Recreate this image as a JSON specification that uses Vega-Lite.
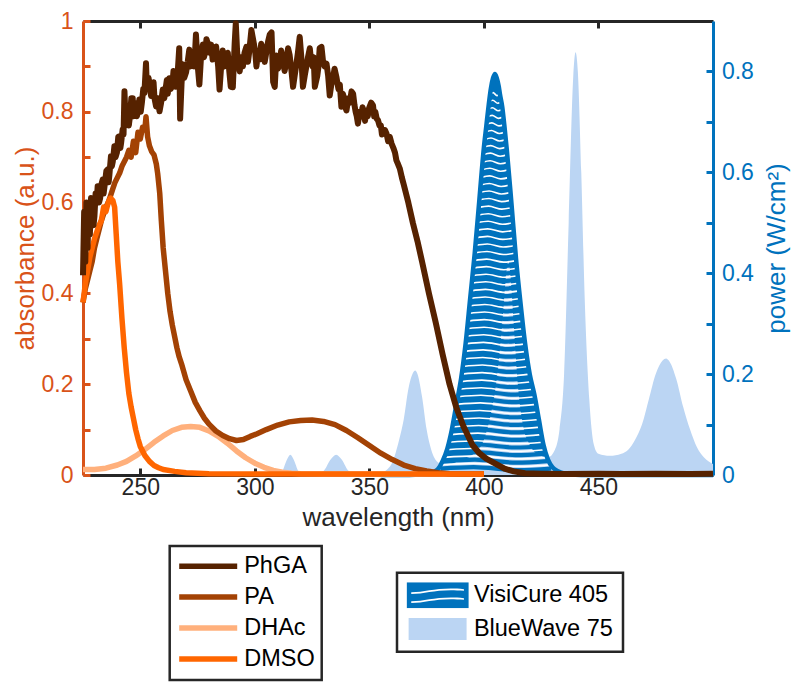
{
  "$schema": "https://vega.github.io/schema/vega-lite/v6.json",
  "width": 630,
  "height": 454,
  "autosize": {"type": "none"},
  "padding": {"left": 83, "top": 21, "right": 87, "bottom": 215},
  "config": {
    "font": "Liberation Sans",
    "view": {"stroke": null},
    "axis": {"grid": false, "domainWidth": 3, "tickWidth": 3, "labelFontSize": 23, "titleFontSize": 26, "titleFontWeight": "normal", "labelFont": "Liberation Sans", "titleFont": "Liberation Sans", "labelOverlap": false, "labelFlush": false},
    "legend": {"labelFont": "Liberation Sans"}
  },
  "datasets": {
    "vc": [
      {"s":"VisiCure 405","w":355,"p":0},{"s":"VisiCure 405","w":360,"p":0},{"s":"VisiCure 405","w":365,"p":0},{"s":"VisiCure 405","w":370,"p":0.0005},{"s":"VisiCure 405","w":375,"p":0.002},{"s":"VisiCure 405","w":378,"p":0.006},{"s":"VisiCure 405","w":380,"p":0.012},{"s":"VisiCure 405","w":382,"p":0.028},{"s":"VisiCure 405","w":384,"p":0.052},{"s":"VisiCure 405","w":386,"p":0.09},{"s":"VisiCure 405","w":388,"p":0.14},{"s":"VisiCure 405","w":390,"p":0.19},{"s":"VisiCure 405","w":392,"p":0.26},{"s":"VisiCure 405","w":394,"p":0.35},{"s":"VisiCure 405","w":396,"p":0.44},{"s":"VisiCure 405","w":398,"p":0.545},{"s":"VisiCure 405","w":400,"p":0.65},{"s":"VisiCure 405","w":401,"p":0.69},{"s":"VisiCure 405","w":402,"p":0.73},{"s":"VisiCure 405","w":403,"p":0.765},{"s":"VisiCure 405","w":404,"p":0.787},{"s":"VisiCure 405","w":404.8,"p":0.795},{"s":"VisiCure 405","w":405.6,"p":0.787},{"s":"VisiCure 405","w":406.5,"p":0.77},{"s":"VisiCure 405","w":407,"p":0.755},{"s":"VisiCure 405","w":408,"p":0.73},{"s":"VisiCure 405","w":409,"p":0.69},{"s":"VisiCure 405","w":410,"p":0.645},{"s":"VisiCure 405","w":412,"p":0.54},{"s":"VisiCure 405","w":414,"p":0.43},{"s":"VisiCure 405","w":416,"p":0.34},{"s":"VisiCure 405","w":418,"p":0.26},{"s":"VisiCure 405","w":420,"p":0.2},{"s":"VisiCure 405","w":422,"p":0.16},{"s":"VisiCure 405","w":424,"p":0.11},{"s":"VisiCure 405","w":426,"p":0.06},{"s":"VisiCure 405","w":428,"p":0.03},{"s":"VisiCure 405","w":430,"p":0.015},{"s":"VisiCure 405","w":432,"p":0.008},{"s":"VisiCure 405","w":436,"p":0.002},{"s":"VisiCure 405","w":440,"p":0.0005},{"s":"VisiCure 405","w":445,"p":0},{"s":"VisiCure 405","w":460,"p":0},{"s":"VisiCure 405","w":480,"p":0},{"s":"VisiCure 405","w":500,"p":0}
    ],
    "bw": [
      {"s":"BlueWave 75","w":305,"p":0},{"s":"BlueWave 75","w":310,"p":0.002},{"s":"BlueWave 75","w":312,"p":0.008},{"s":"BlueWave 75","w":314,"p":0.03},{"s":"BlueWave 75","w":315.5,"p":0.04},{"s":"BlueWave 75","w":317,"p":0.03},{"s":"BlueWave 75","w":319,"p":0.008},{"s":"BlueWave 75","w":321,"p":0.002},{"s":"BlueWave 75","w":326,"p":0.002},{"s":"BlueWave 75","w":330,"p":0.008},{"s":"BlueWave 75","w":333,"p":0.03},{"s":"BlueWave 75","w":335.5,"p":0.04},{"s":"BlueWave 75","w":338,"p":0.03},{"s":"BlueWave 75","w":341,"p":0.008},{"s":"BlueWave 75","w":345,"p":0.003},{"s":"BlueWave 75","w":350,"p":0.003},{"s":"BlueWave 75","w":355,"p":0.005},{"s":"BlueWave 75","w":358,"p":0.012},{"s":"BlueWave 75","w":360,"p":0.025},{"s":"BlueWave 75","w":363,"p":0.07},{"s":"BlueWave 75","w":365,"p":0.11},{"s":"BlueWave 75","w":367,"p":0.17},{"s":"BlueWave 75","w":369,"p":0.202},{"s":"BlueWave 75","w":370,"p":0.207},{"s":"BlueWave 75","w":371,"p":0.2},{"s":"BlueWave 75","w":373,"p":0.155},{"s":"BlueWave 75","w":375,"p":0.09},{"s":"BlueWave 75","w":377,"p":0.05},{"s":"BlueWave 75","w":380,"p":0.025},{"s":"BlueWave 75","w":383,"p":0.02},{"s":"BlueWave 75","w":386,"p":0.022},{"s":"BlueWave 75","w":390,"p":0.03},{"s":"BlueWave 75","w":395,"p":0.04},{"s":"BlueWave 75","w":400,"p":0.07},{"s":"BlueWave 75","w":403,"p":0.12},{"s":"BlueWave 75","w":405,"p":0.17},{"s":"BlueWave 75","w":407,"p":0.25},{"s":"BlueWave 75","w":408.5,"p":0.33},{"s":"BlueWave 75","w":410,"p":0.41},{"s":"BlueWave 75","w":410.7,"p":0.425},{"s":"BlueWave 75","w":411.5,"p":0.4},{"s":"BlueWave 75","w":413,"p":0.3},{"s":"BlueWave 75","w":415,"p":0.17},{"s":"BlueWave 75","w":417,"p":0.1},{"s":"BlueWave 75","w":420,"p":0.06},{"s":"BlueWave 75","w":424,"p":0.04},{"s":"BlueWave 75","w":428,"p":0.035},{"s":"BlueWave 75","w":431,"p":0.05},{"s":"BlueWave 75","w":433,"p":0.09},{"s":"BlueWave 75","w":435,"p":0.2},{"s":"BlueWave 75","w":437,"p":0.5},{"s":"BlueWave 75","w":439,"p":0.79},{"s":"BlueWave 75","w":440,"p":0.838},{"s":"BlueWave 75","w":441,"p":0.8},{"s":"BlueWave 75","w":442.5,"p":0.6},{"s":"BlueWave 75","w":444,"p":0.35},{"s":"BlueWave 75","w":446,"p":0.15},{"s":"BlueWave 75","w":448,"p":0.06},{"s":"BlueWave 75","w":450,"p":0.042},{"s":"BlueWave 75","w":455,"p":0.038},{"s":"BlueWave 75","w":460,"p":0.042},{"s":"BlueWave 75","w":463,"p":0.05},{"s":"BlueWave 75","w":466,"p":0.07},{"s":"BlueWave 75","w":469,"p":0.1},{"s":"BlueWave 75","w":472,"p":0.15},{"s":"BlueWave 75","w":475,"p":0.2},{"s":"BlueWave 75","w":478,"p":0.227},{"s":"BlueWave 75","w":479.5,"p":0.231},{"s":"BlueWave 75","w":481,"p":0.225},{"s":"BlueWave 75","w":484,"p":0.19},{"s":"BlueWave 75","w":487,"p":0.135},{"s":"BlueWave 75","w":490,"p":0.09},{"s":"BlueWave 75","w":493,"p":0.055},{"s":"BlueWave 75","w":496,"p":0.035},{"s":"BlueWave 75","w":500,"p":0.022}
    ],
    "hatch": [
      {"k":0,"w":381.0,"p":0.02},{"k":0,"w":395.5,"p":0.023},{"k":0,"w":414.83,"p":0.017},{"k":0,"w":429.33,"p":0.02},
      {"k":1,"w":382.58,"p":0.035},{"k":1,"w":396.11,"p":0.038},{"k":1,"w":414.14,"p":0.032},{"k":1,"w":427.67,"p":0.035},
      {"k":2,"w":383.83,"p":0.05},{"k":2,"w":396.68,"p":0.053},{"k":2,"w":413.82,"p":0.047},{"k":2,"w":426.67,"p":0.05},
      {"k":3,"w":384.68,"p":0.065},{"k":3,"w":397.02,"p":0.068},{"k":3,"w":413.46,"p":0.062},{"k":3,"w":425.8,"p":0.065},
      {"k":4,"w":385.47,"p":0.08},{"k":4,"w":397.39,"p":0.083},{"k":4,"w":413.28,"p":0.077},{"k":4,"w":425.2,"p":0.08},
      {"k":5,"w":386.2,"p":0.095},{"k":5,"w":397.72,"p":0.098},{"k":5,"w":413.08,"p":0.092},{"k":5,"w":424.6,"p":0.095},
      {"k":6,"w":386.8,"p":0.11},{"k":6,"w":397.96,"p":0.113},{"k":6,"w":412.84,"p":0.107},{"k":6,"w":424.0,"p":0.11},
      {"k":7,"w":387.4,"p":0.125},{"k":7,"w":398.2,"p":0.128},{"k":7,"w":412.6,"p":0.122},{"k":7,"w":423.4,"p":0.125},
      {"k":8,"w":388.0,"p":0.14},{"k":8,"w":398.44,"p":0.143},{"k":8,"w":412.36,"p":0.137},{"k":8,"w":422.8,"p":0.14},
      {"k":9,"w":388.6,"p":0.155},{"k":9,"w":398.68,"p":0.158},{"k":9,"w":412.12,"p":0.152},{"k":9,"w":422.2,"p":0.155},
      {"k":10,"w":389.2,"p":0.17},{"k":10,"w":398.89,"p":0.173},{"k":10,"w":411.81,"p":0.167},{"k":10,"w":421.5,"p":0.17},
      {"k":11,"w":389.8,"p":0.185},{"k":11,"w":399.09,"p":0.188},{"k":11,"w":411.47,"p":0.182},{"k":11,"w":420.75,"p":0.185},
      {"k":12,"w":390.29,"p":0.2},{"k":12,"w":399.2,"p":0.203},{"k":12,"w":411.09,"p":0.197},{"k":12,"w":420.0,"p":0.2},
      {"k":13,"w":390.71,"p":0.215},{"k":13,"w":399.35,"p":0.218},{"k":13,"w":410.86,"p":0.212},{"k":13,"w":419.5,"p":0.215},
      {"k":14,"w":391.14,"p":0.23},{"k":14,"w":399.5,"p":0.233},{"k":14,"w":410.64,"p":0.227},{"k":14,"w":419.0,"p":0.23},
      {"k":15,"w":391.57,"p":0.245},{"k":15,"w":399.65,"p":0.248},{"k":15,"w":410.42,"p":0.242},{"k":15,"w":418.5,"p":0.245},
      {"k":16,"w":392.0,"p":0.26},{"k":16,"w":399.8,"p":0.263},{"k":16,"w":410.2,"p":0.257},{"k":16,"w":418.0,"p":0.26},
      {"k":17,"w":392.33,"p":0.275},{"k":17,"w":399.92,"p":0.278},{"k":17,"w":410.04,"p":0.272},{"k":17,"w":417.63,"p":0.275},
      {"k":18,"w":392.67,"p":0.29},{"k":18,"w":400.04,"p":0.293},{"k":18,"w":409.88,"p":0.287},{"k":18,"w":417.25,"p":0.29},
      {"k":19,"w":393.0,"p":0.305},{"k":19,"w":400.16,"p":0.308},{"k":19,"w":409.72,"p":0.302},{"k":19,"w":416.88,"p":0.305},
      {"k":20,"w":393.33,"p":0.32},{"k":20,"w":400.28,"p":0.323},{"k":20,"w":409.55,"p":0.317},{"k":20,"w":416.5,"p":0.32},
      {"k":21,"w":393.67,"p":0.335},{"k":21,"w":400.41,"p":0.338},{"k":21,"w":409.39,"p":0.332},{"k":21,"w":416.13,"p":0.335},
      {"k":22,"w":394.0,"p":0.35},{"k":22,"w":400.53,"p":0.353},{"k":22,"w":409.25,"p":0.347},{"k":22,"w":415.78,"p":0.35},
      {"k":23,"w":394.33,"p":0.365},{"k":23,"w":400.66,"p":0.368},{"k":23,"w":409.11,"p":0.362},{"k":23,"w":415.44,"p":0.365},
      {"k":24,"w":394.67,"p":0.38},{"k":24,"w":400.8,"p":0.383},{"k":24,"w":408.98,"p":0.377},{"k":24,"w":415.11,"p":0.38},
      {"k":25,"w":395.0,"p":0.395},{"k":25,"w":400.93,"p":0.398},{"k":25,"w":408.85,"p":0.392},{"k":25,"w":414.78,"p":0.395},
      {"k":26,"w":395.33,"p":0.41},{"k":26,"w":401.06,"p":0.413},{"k":26,"w":408.71,"p":0.407},{"k":26,"w":414.44,"p":0.41},
      {"k":27,"w":395.67,"p":0.425},{"k":27,"w":401.2,"p":0.428},{"k":27,"w":408.58,"p":0.422},{"k":27,"w":414.11,"p":0.425},
      {"k":28,"w":396.0,"p":0.44},{"k":28,"w":401.35,"p":0.443},{"k":28,"w":408.47,"p":0.437},{"k":28,"w":413.82,"p":0.44},
      {"k":29,"w":396.29,"p":0.455},{"k":29,"w":401.47,"p":0.458},{"k":29,"w":408.37,"p":0.452},{"k":29,"w":413.55,"p":0.455},
      {"k":30,"w":396.57,"p":0.47},{"k":30,"w":401.58,"p":0.473},{"k":30,"w":408.26,"p":0.467},{"k":30,"w":413.27,"p":0.47},
      {"k":31,"w":396.86,"p":0.485},{"k":31,"w":401.7,"p":0.488},{"k":31,"w":408.16,"p":0.482},{"k":31,"w":413.0,"p":0.485},
      {"k":32,"w":397.14,"p":0.5},{"k":32,"w":401.82,"p":0.503},{"k":32,"w":408.05,"p":0.497},{"k":32,"w":412.73,"p":0.5},
      {"k":33,"w":397.43,"p":0.515},{"k":33,"w":401.94,"p":0.518},{"k":33,"w":407.94,"p":0.512},{"k":33,"w":412.45,"p":0.515},
      {"k":34,"w":397.71,"p":0.53},{"k":34,"w":402.05,"p":0.533},{"k":34,"w":407.84,"p":0.527},{"k":34,"w":412.18,"p":0.53},
      {"k":35,"w":398.0,"p":0.545},{"k":35,"w":402.17,"p":0.548},{"k":35,"w":407.73,"p":0.542},{"k":35,"w":411.9,"p":0.545},
      {"k":36,"w":398.29,"p":0.56},{"k":36,"w":402.29,"p":0.563},{"k":36,"w":407.62,"p":0.557},{"k":36,"w":411.62,"p":0.56},
      {"k":37,"w":398.57,"p":0.575},{"k":37,"w":402.4,"p":0.578},{"k":37,"w":407.5,"p":0.572},{"k":37,"w":411.33,"p":0.575},
      {"k":38,"w":398.86,"p":0.59},{"k":38,"w":402.52,"p":0.593},{"k":38,"w":407.39,"p":0.587},{"k":38,"w":411.05,"p":0.59},
      {"k":39,"w":399.14,"p":0.605},{"k":39,"w":402.63,"p":0.608},{"k":39,"w":407.27,"p":0.602},{"k":39,"w":410.76,"p":0.605},
      {"k":40,"w":399.43,"p":0.62},{"k":40,"w":402.75,"p":0.623},{"k":40,"w":407.17,"p":0.617},{"k":40,"w":410.48,"p":0.62},
      {"k":41,"w":399.71,"p":0.635},{"k":41,"w":402.85,"p":0.638},{"k":41,"w":407.05,"p":0.632},{"k":41,"w":410.19,"p":0.635},
      {"k":42,"w":400.0,"p":0.65},{"k":42,"w":402.97,"p":0.653},{"k":42,"w":406.92,"p":0.647},{"k":42,"w":409.89,"p":0.65},
      {"k":43,"w":400.38,"p":0.665},{"k":43,"w":403.13,"p":0.668},{"k":43,"w":406.81,"p":0.662},{"k":43,"w":409.56,"p":0.665},
      {"k":44,"w":400.75,"p":0.68},{"k":44,"w":403.29,"p":0.683},{"k":44,"w":406.68,"p":0.677},{"k":44,"w":409.22,"p":0.68},
      {"k":45,"w":401.13,"p":0.695},{"k":45,"w":403.46,"p":0.698},{"k":45,"w":406.56,"p":0.692},{"k":45,"w":408.88,"p":0.695},
      {"k":46,"w":401.5,"p":0.71},{"k":46,"w":403.6,"p":0.713},{"k":46,"w":406.4,"p":0.707},{"k":46,"w":408.5,"p":0.71},
      {"k":47,"w":401.88,"p":0.725},{"k":47,"w":403.76,"p":0.728},{"k":47,"w":406.26,"p":0.722},{"k":47,"w":408.13,"p":0.725},
      {"k":48,"w":402.29,"p":0.74},{"k":48,"w":403.88,"p":0.743},{"k":48,"w":406.01,"p":0.737},{"k":48,"w":407.6,"p":0.74},
      {"k":49,"w":402.71,"p":0.755},{"k":49,"w":404.0,"p":0.758},{"k":49,"w":405.71,"p":0.752},{"k":49,"w":407.0,"p":0.755}
    ],
    "abs": [
      {"s":"PhGA","w":225,"a":0.44},{"s":"PhGA","w":225.5,"a":0.58},{"s":"PhGA","w":226,"a":0.47},{"s":"PhGA","w":226.5,"a":0.6},{"s":"PhGA","w":227,"a":0.5},{"s":"PhGA","w":227.5,"a":0.59},{"s":"PhGA","w":228,"a":0.53},{"s":"PhGA","w":228.5,"a":0.61},{"s":"PhGA","w":229.2,"a":0.6},{"s":"PhGA","w":229.6,"a":0.55},{"s":"PhGA","w":230,"a":0.57},{"s":"PhGA","w":230.5,"a":0.62},{"s":"PhGA","w":231,"a":0.6},{"s":"PhGA","w":231.4,"a":0.636},{"s":"PhGA","w":232,"a":0.6},{"s":"PhGA","w":232.5,"a":0.61},{"s":"PhGA","w":233,"a":0.64},{"s":"PhGA","w":233.6,"a":0.651},{"s":"PhGA","w":234,"a":0.62},{"s":"PhGA","w":234.5,"a":0.64},{"s":"PhGA","w":235.2,"a":0.67},{"s":"PhGA","w":235.8,"a":0.673},{"s":"PhGA","w":236.2,"a":0.645},{"s":"PhGA","w":236.5,"a":0.66},{"s":"PhGA","w":237.2,"a":0.702},{"s":"PhGA","w":237.6,"a":0.68},{"s":"PhGA","w":238,"a":0.69},{"s":"PhGA","w":238.7,"a":0.724},{"s":"PhGA","w":239.2,"a":0.7},{"s":"PhGA","w":239.8,"a":0.71},{"s":"PhGA","w":240.4,"a":0.745},{"s":"PhGA","w":240.9,"a":0.746},{"s":"PhGA","w":241.3,"a":0.72},{"s":"PhGA","w":241.6,"a":0.73},{"s":"PhGA","w":242.3,"a":0.761},{"s":"PhGA","w":242.7,"a":0.75},{"s":"PhGA","w":243.1,"a":0.845},{"s":"PhGA","w":243.6,"a":0.78},{"s":"PhGA","w":244,"a":0.8},{"s":"PhGA","w":244.5,"a":0.805},{"s":"PhGA","w":245,"a":0.77},{"s":"PhGA","w":245.5,"a":0.79},{"s":"PhGA","w":246.1,"a":0.83},{"s":"PhGA","w":246.7,"a":0.83},{"s":"PhGA","w":247,"a":0.79},{"s":"PhGA","w":247.4,"a":0.8},{"s":"PhGA","w":248.1,"a":0.819},{"s":"PhGA","w":248.5,"a":0.79},{"s":"PhGA","w":249,"a":0.8},{"s":"PhGA","w":249.6,"a":0.827},{"s":"PhGA","w":250.2,"a":0.8},{"s":"PhGA","w":250.7,"a":0.82},{"s":"PhGA","w":251.3,"a":0.85},{"s":"PhGA","w":251.8,"a":0.841},{"s":"PhGA","w":252.5,"a":0.907},{"s":"PhGA","w":252.9,"a":0.85},{"s":"PhGA","w":253.2,"a":0.85},{"s":"PhGA","w":253.6,"a":0.875},{"s":"PhGA","w":254,"a":0.863},{"s":"PhGA","w":254.7,"a":0.835},{"s":"PhGA","w":255.4,"a":0.849},{"s":"PhGA","w":255.8,"a":0.865},{"s":"PhGA","w":256.2,"a":0.83},{"s":"PhGA","w":256.9,"a":0.812},{"s":"PhGA","w":257.6,"a":0.83},{"s":"PhGA","w":258.4,"a":0.801},{"s":"PhGA","w":259.1,"a":0.82},{"s":"PhGA","w":259.8,"a":0.849},{"s":"PhGA","w":260.5,"a":0.83},{"s":"PhGA","w":261.2,"a":0.856},{"s":"PhGA","w":261.6,"a":0.87},{"s":"PhGA","w":262,"a":0.84},{"s":"PhGA","w":262.7,"a":0.874},{"s":"PhGA","w":263.3,"a":0.85},{"s":"PhGA","w":264,"a":0.86},{"s":"PhGA","w":264.5,"a":0.89},{"s":"PhGA","w":264.9,"a":0.878},{"s":"PhGA","w":265.5,"a":0.855},{"s":"PhGA","w":266,"a":0.87},{"s":"PhGA","w":266.5,"a":0.9},{"s":"PhGA","w":267,"a":0.94},{"s":"PhGA","w":267.4,"a":0.785},{"s":"PhGA","w":268,"a":0.86},{"s":"PhGA","w":268.5,"a":0.905},{"s":"PhGA","w":269.2,"a":0.875},{"s":"PhGA","w":270,"a":0.887},{"s":"PhGA","w":270.7,"a":0.91},{"s":"PhGA","w":271.4,"a":0.937},{"s":"PhGA","w":271.8,"a":0.9},{"s":"PhGA","w":272.2,"a":0.91},{"s":"PhGA","w":272.9,"a":0.922},{"s":"PhGA","w":273.6,"a":0.9},{"s":"PhGA","w":274.3,"a":0.97},{"s":"PhGA","w":275.1,"a":0.9},{"s":"PhGA","w":275.8,"a":0.86},{"s":"PhGA","w":276.5,"a":0.92},{"s":"PhGA","w":277.3,"a":0.948},{"s":"PhGA","w":277.8,"a":0.92},{"s":"PhGA","w":278.3,"a":0.93},{"s":"PhGA","w":278.9,"a":0.96},{"s":"PhGA","w":279.4,"a":0.952},{"s":"PhGA","w":280.2,"a":0.93},{"s":"PhGA","w":280.9,"a":0.948},{"s":"PhGA","w":281.6,"a":0.915},{"s":"PhGA","w":282.4,"a":0.922},{"s":"PhGA","w":283.1,"a":0.944},{"s":"PhGA","w":284,"a":0.9},{"s":"PhGA","w":284.6,"a":0.849},{"s":"PhGA","w":285.3,"a":0.9},{"s":"PhGA","w":286,"a":0.935},{"s":"PhGA","w":286.7,"a":0.9},{"s":"PhGA","w":287.5,"a":0.91},{"s":"PhGA","w":288.2,"a":0.93},{"s":"PhGA","w":288.9,"a":0.887},{"s":"PhGA","w":289.5,"a":0.855},{"s":"PhGA","w":290.4,"a":0.854},{"s":"PhGA","w":291.2,"a":0.95},{"s":"PhGA","w":291.7,"a":0.995},{"s":"PhGA","w":292.3,"a":0.93},{"s":"PhGA","w":293.4,"a":0.889},{"s":"PhGA","w":294.1,"a":0.92},{"s":"PhGA","w":294.8,"a":0.9},{"s":"PhGA","w":295.5,"a":0.93},{"s":"PhGA","w":296.3,"a":0.943},{"s":"PhGA","w":297,"a":0.91},{"s":"PhGA","w":297.5,"a":0.93},{"s":"PhGA","w":298.5,"a":0.98},{"s":"PhGA","w":299.6,"a":0.95},{"s":"PhGA","w":300.2,"a":0.93},{"s":"PhGA","w":300.7,"a":0.9},{"s":"PhGA","w":301.4,"a":0.93},{"s":"PhGA","w":302,"a":0.915},{"s":"PhGA","w":302.8,"a":0.95},{"s":"PhGA","w":303.6,"a":0.935},{"s":"PhGA","w":304.3,"a":0.91},{"s":"PhGA","w":305,"a":0.93},{"s":"PhGA","w":305.8,"a":0.955},{"s":"PhGA","w":306.5,"a":0.97},{"s":"PhGA","w":307.3,"a":0.975},{"s":"PhGA","w":308,"a":0.866},{"s":"PhGA","w":308.7,"a":0.855},{"s":"PhGA","w":309.4,"a":0.924},{"s":"PhGA","w":310.1,"a":0.895},{"s":"PhGA","w":310.8,"a":0.905},{"s":"PhGA","w":311.5,"a":0.935},{"s":"PhGA","w":312.3,"a":0.915},{"s":"PhGA","w":313,"a":0.89},{"s":"PhGA","w":313.8,"a":0.91},{"s":"PhGA","w":314.5,"a":0.94},{"s":"PhGA","w":315.2,"a":0.925},{"s":"PhGA","w":316,"a":0.89},{"s":"PhGA","w":316.7,"a":0.855},{"s":"PhGA","w":317.4,"a":0.88},{"s":"PhGA","w":318,"a":0.9},{"s":"PhGA","w":318.8,"a":0.93},{"s":"PhGA","w":319.6,"a":0.965},{"s":"PhGA","w":320.3,"a":0.92},{"s":"PhGA","w":321,"a":0.855},{"s":"PhGA","w":321.8,"a":0.88},{"s":"PhGA","w":322.5,"a":0.9},{"s":"PhGA","w":323.2,"a":0.92},{"s":"PhGA","w":324,"a":0.94},{"s":"PhGA","w":324.6,"a":0.91},{"s":"PhGA","w":325.2,"a":0.9},{"s":"PhGA","w":325.7,"a":0.92},{"s":"PhGA","w":326.2,"a":0.855},{"s":"PhGA","w":327.3,"a":0.88},{"s":"PhGA","w":327.8,"a":0.9},{"s":"PhGA","w":328.3,"a":0.94},{"s":"PhGA","w":329.1,"a":0.943},{"s":"PhGA","w":329.8,"a":0.91},{"s":"PhGA","w":330.5,"a":0.9},{"s":"PhGA","w":331.3,"a":0.906},{"s":"PhGA","w":332,"a":0.88},{"s":"PhGA","w":332.7,"a":0.836},{"s":"PhGA","w":333.4,"a":0.86},{"s":"PhGA","w":334,"a":0.87},{"s":"PhGA","w":334.8,"a":0.895},{"s":"PhGA","w":335.6,"a":0.877},{"s":"PhGA","w":336.5,"a":0.85},{"s":"PhGA","w":337.1,"a":0.86},{"s":"PhGA","w":337.8,"a":0.811},{"s":"PhGA","w":338.4,"a":0.84},{"s":"PhGA","w":339,"a":0.83},{"s":"PhGA","w":339.5,"a":0.81},{"s":"PhGA","w":340,"a":0.803},{"s":"PhGA","w":340.8,"a":0.83},{"s":"PhGA","w":341.5,"a":0.82},{"s":"PhGA","w":342.2,"a":0.845},{"s":"PhGA","w":342.9,"a":0.84},{"s":"PhGA","w":343.5,"a":0.815},{"s":"PhGA","w":344,"a":0.8},{"s":"PhGA","w":344.5,"a":0.79},{"s":"PhGA","w":345,"a":0.774},{"s":"PhGA","w":345.8,"a":0.8},{"s":"PhGA","w":346.5,"a":0.79},{"s":"PhGA","w":347,"a":0.81},{"s":"PhGA","w":347.5,"a":0.8},{"s":"PhGA","w":348.1,"a":0.78},{"s":"PhGA","w":348.7,"a":0.803},{"s":"PhGA","w":349.3,"a":0.79},{"s":"PhGA","w":350,"a":0.81},{"s":"PhGA","w":350.8,"a":0.82},{"s":"PhGA","w":351.6,"a":0.814},{"s":"PhGA","w":352.1,"a":0.79},{"s":"PhGA","w":352.6,"a":0.8},{"s":"PhGA","w":353.2,"a":0.785},{"s":"PhGA","w":353.8,"a":0.781},{"s":"PhGA","w":354.4,"a":0.77},{"s":"PhGA","w":355,"a":0.77},{"s":"PhGA","w":355.5,"a":0.75},{"s":"PhGA","w":356,"a":0.759},{"s":"PhGA","w":356.8,"a":0.76},{"s":"PhGA","w":357.5,"a":0.752},{"s":"PhGA","w":358.2,"a":0.735},{"s":"PhGA","w":358.9,"a":0.745},{"s":"PhGA","w":359.7,"a":0.73},{"s":"PhGA","w":360.5,"a":0.72},{"s":"PhGA","w":361.2,"a":0.71},{"s":"PhGA","w":361.8,"a":0.693},{"s":"PhGA","w":362.5,"a":0.685},{"s":"PhGA","w":363.3,"a":0.675},{"s":"PhGA","w":364.2,"a":0.655},{"s":"PhGA","w":365,"a":0.64},{"s":"PhGA","w":367,"a":0.6},{"s":"PhGA","w":369,"a":0.555},{"s":"PhGA","w":371,"a":0.515},{"s":"PhGA","w":373,"a":0.47},{"s":"PhGA","w":376,"a":0.4},{"s":"PhGA","w":379,"a":0.335},{"s":"PhGA","w":382,"a":0.265},{"s":"PhGA","w":385,"a":0.2},{"s":"PhGA","w":388,"a":0.148},{"s":"PhGA","w":391,"a":0.108},{"s":"PhGA","w":395,"a":0.066},{"s":"PhGA","w":398,"a":0.048},{"s":"PhGA","w":401,"a":0.036},{"s":"PhGA","w":405,"a":0.025},{"s":"PhGA","w":409,"a":0.014},{"s":"PhGA","w":413,"a":0.008},{"s":"PhGA","w":418,"a":0.004},{"s":"PhGA","w":425,"a":0.003},{"s":"PhGA","w":435,"a":0.002},{"s":"PhGA","w":450,"a":0.003},{"s":"PhGA","w":460,"a":0.002},{"s":"PhGA","w":475,"a":0.003},{"s":"PhGA","w":490,"a":0.002},{"s":"PhGA","w":500,"a":0.003},
      {"s":"PA","w":225,"a":0.38},{"s":"PA","w":226,"a":0.41},{"s":"PA","w":227,"a":0.43},{"s":"PA","w":228,"a":0.45},{"s":"PA","w":229,"a":0.47},{"s":"PA","w":230,"a":0.5},{"s":"PA","w":231,"a":0.52},{"s":"PA","w":232,"a":0.54},{"s":"PA","w":233,"a":0.56},{"s":"PA","w":234,"a":0.575},{"s":"PA","w":235,"a":0.59},{"s":"PA","w":236,"a":0.6},{"s":"PA","w":237,"a":0.615},{"s":"PA","w":238,"a":0.63},{"s":"PA","w":239,"a":0.645},{"s":"PA","w":240,"a":0.655},{"s":"PA","w":241,"a":0.665},{"s":"PA","w":242,"a":0.68},{"s":"PA","w":243,"a":0.69},{"s":"PA","w":244,"a":0.7},{"s":"PA","w":245,"a":0.715},{"s":"PA","w":246,"a":0.7},{"s":"PA","w":247,"a":0.735},{"s":"PA","w":248,"a":0.71},{"s":"PA","w":249,"a":0.755},{"s":"PA","w":250,"a":0.74},{"s":"PA","w":251,"a":0.766},{"s":"PA","w":252,"a":0.76},{"s":"PA","w":252.5,"a":0.789},{"s":"PA","w":253.2,"a":0.745},{"s":"PA","w":254,"a":0.725},{"s":"PA","w":255,"a":0.712},{"s":"PA","w":256,"a":0.705},{"s":"PA","w":257,"a":0.685},{"s":"PA","w":257.6,"a":0.664},{"s":"PA","w":258.5,"a":0.62},{"s":"PA","w":259.2,"a":0.56},{"s":"PA","w":260,"a":0.5},{"s":"PA","w":261,"a":0.45},{"s":"PA","w":262,"a":0.4},{"s":"PA","w":263,"a":0.36},{"s":"PA","w":264,"a":0.33},{"s":"PA","w":265,"a":0.305},{"s":"PA","w":266,"a":0.28},{"s":"PA","w":267,"a":0.26},{"s":"PA","w":268,"a":0.245},{"s":"PA","w":270,"a":0.21},{"s":"PA","w":272,"a":0.185},{"s":"PA","w":274,"a":0.16},{"s":"PA","w":276,"a":0.142},{"s":"PA","w":278,"a":0.125},{"s":"PA","w":280,"a":0.112},{"s":"PA","w":283,"a":0.097},{"s":"PA","w":286,"a":0.087},{"s":"PA","w":289,"a":0.08},{"s":"PA","w":292,"a":0.076},{"s":"PA","w":295,"a":0.078},{"s":"PA","w":298,"a":0.085},{"s":"PA","w":301,"a":0.091},{"s":"PA","w":305,"a":0.1},{"s":"PA","w":310,"a":0.11},{"s":"PA","w":315,"a":0.117},{"s":"PA","w":320,"a":0.12},{"s":"PA","w":325,"a":0.121},{"s":"PA","w":330,"a":0.118},{"s":"PA","w":335,"a":0.111},{"s":"PA","w":340,"a":0.098},{"s":"PA","w":345,"a":0.082},{"s":"PA","w":350,"a":0.065},{"s":"PA","w":355,"a":0.048},{"s":"PA","w":360,"a":0.034},{"s":"PA","w":365,"a":0.022},{"s":"PA","w":370,"a":0.014},{"s":"PA","w":375,"a":0.009},{"s":"PA","w":380,"a":0.005},{"s":"PA","w":385,"a":0.003},{"s":"PA","w":390,"a":0.002},{"s":"PA","w":400,"a":0.002},
      {"s":"DHAc","w":225,"a":0.012},{"s":"DHAc","w":230,"a":0.012},{"s":"DHAc","w":235,"a":0.015},{"s":"DHAc","w":240,"a":0.022},{"s":"DHAc","w":244,"a":0.03},{"s":"DHAc","w":248,"a":0.042},{"s":"DHAc","w":252,"a":0.056},{"s":"DHAc","w":256,"a":0.072},{"s":"DHAc","w":260,"a":0.086},{"s":"DHAc","w":264,"a":0.098},{"s":"DHAc","w":268,"a":0.105},{"s":"DHAc","w":272,"a":0.107},{"s":"DHAc","w":276,"a":0.105},{"s":"DHAc","w":280,"a":0.097},{"s":"DHAc","w":284,"a":0.085},{"s":"DHAc","w":288,"a":0.07},{"s":"DHAc","w":292,"a":0.053},{"s":"DHAc","w":296,"a":0.038},{"s":"DHAc","w":300,"a":0.026},{"s":"DHAc","w":304,"a":0.017},{"s":"DHAc","w":308,"a":0.01},{"s":"DHAc","w":312,"a":0.006},{"s":"DHAc","w":316,"a":0.004},{"s":"DHAc","w":320,"a":0.003},{"s":"DHAc","w":330,"a":0.002},{"s":"DHAc","w":400,"a":0.002},
      {"s":"DMSO","w":225,"a":0.38},{"s":"DMSO","w":226,"a":0.42},{"s":"DMSO","w":227,"a":0.45},{"s":"DMSO","w":228,"a":0.48},{"s":"DMSO","w":229,"a":0.5},{"s":"DMSO","w":230,"a":0.52},{"s":"DMSO","w":231,"a":0.535},{"s":"DMSO","w":232,"a":0.55},{"s":"DMSO","w":233,"a":0.56},{"s":"DMSO","w":234,"a":0.59},{"s":"DMSO","w":235,"a":0.58},{"s":"DMSO","w":236,"a":0.6},{"s":"DMSO","w":237,"a":0.61},{"s":"DMSO","w":238,"a":0.605},{"s":"DMSO","w":238.8,"a":0.59},{"s":"DMSO","w":239.5,"a":0.53},{"s":"DMSO","w":240.2,"a":0.47},{"s":"DMSO","w":241,"a":0.42},{"s":"DMSO","w":242,"a":0.345},{"s":"DMSO","w":243,"a":0.28},{"s":"DMSO","w":244,"a":0.225},{"s":"DMSO","w":245,"a":0.18},{"s":"DMSO","w":246,"a":0.15},{"s":"DMSO","w":247,"a":0.125},{"s":"DMSO","w":248,"a":0.1},{"s":"DMSO","w":249,"a":0.08},{"s":"DMSO","w":250,"a":0.063},{"s":"DMSO","w":252,"a":0.043},{"s":"DMSO","w":254,"a":0.03},{"s":"DMSO","w":256,"a":0.021},{"s":"DMSO","w":258,"a":0.016},{"s":"DMSO","w":260,"a":0.012},{"s":"DMSO","w":265,"a":0.008},{"s":"DMSO","w":270,"a":0.005},{"s":"DMSO","w":280,"a":0.003},{"s":"DMSO","w":300,"a":0.002},{"s":"DMSO","w":350,"a":0.002},{"s":"DMSO","w":400,"a":0.002}
    ]
  },
  "layer": [
    {
      "data": {"name": "vc"},
      "mark": {"type": "area", "interpolate": "monotone"},
      "encoding": {
        "x": {"field": "w", "type": "quantitative", "scale": {"domain": [225, 500], "nice": false, "zero": false},
          "axis": {"orient": "bottom", "values": [250, 300, 350, 400, 450], "title": "wavelength (nm)", "tickSize": -7, "domainColor": "#262626", "tickColor": "#262626", "labelColor": "#262626", "titleColor": "#262626", "labelPadding": 8.3, "titleY": 50, "titleBaseline": "alphabetic"}},
        "y": {"field": "p", "type": "quantitative", "scale": {"domain": [0, 0.9], "nice": false},
          "axis": {"orient": "right", "values": [0, 0.1, 0.2, 0.3, 0.4, 0.5, 0.6, 0.7, 0.8], "format": "~g", "labelExpr": "round(datum.value*10) % 2 == 0 ? datum.label : ''", "title": "power (W/cm²)", "tickSize": -7, "domainColor": "#0072BD", "tickColor": "#0072BD", "labelColor": "#0072BD", "titleColor": "#0072BD", "labelPadding": 15.4, "titleX": 71.7, "titleAngle": 270, "titleBaseline": "alphabetic"}},
        "fill": {"field": "s", "type": "nominal", "scale": {"domain": ["VisiCure 405", "BlueWave 75"], "range": ["#0072BD", "#BBD5F3"]},
          "legend": {"orient": "none", "legendX": 314, "legendY": 551.7, "title": null, "symbolSize": 3844, "symbolStrokeWidth": 0, "labelFontSize": 23.5, "labelColor": "#000000", "labelOffset": 5.3, "padding": 9.6, "clipHeight": 26, "rowPadding": 7.7, "strokeColor": "#262626", "fillColor": "#ffffff", "labelLimit": 0,
            "encode": {"legend": {"update": {"strokeWidth": {"value": 2.5}}},
              "symbols": {"update": {"shape": {"signal": "datum.value === 'VisiCure 405' ? 'M-1,-0.42H1V0.42H-1Z M-0.85,-0.095L-0.85,-0.045C-0.35,-0.045,0,-0.225,0.85,-0.145L0.85,-0.195C0,-0.275,-0.35,-0.095,-0.85,-0.095Z M-0.85,0.195L-0.85,0.245C-0.35,0.245,0,0.065,0.85,0.145L0.85,0.095C0,0.015,-0.35,0.195,-0.85,0.195Z' : 'M-0.935,-0.355H0.935V0.355H-0.935Z'"}}}}}}
      }
    },
    {
      "data": {"name": "bw"},
      "mark": {"type": "area", "interpolate": "monotone"},
      "encoding": {
        "x": {"field": "w", "type": "quantitative", "scale": {"domain": [225, 500], "nice": false, "zero": false}, "axis": null},
        "y": {"field": "p", "type": "quantitative", "scale": {"domain": [0, 0.9], "nice": false}, "axis": null},
        "fill": {"field": "s", "type": "nominal", "scale": {"domain": ["VisiCure 405", "BlueWave 75"], "range": ["#0072BD", "#BBD5F3"]}}
      }
    },
    {
      "data": {"name": "hatch"},
      "mark": {"type": "line", "interpolate": "monotone", "color": "#0072BD", "strokeWidth": 4.2, "yOffset": 3.8},
      "encoding": {
        "x": {"field": "w", "type": "quantitative", "scale": {"domain": [225, 500], "nice": false, "zero": false}, "axis": null},
        "y": {"field": "p", "type": "quantitative", "scale": {"domain": [0, 0.9], "nice": false}, "axis": null},
        "detail": {"field": "k", "type": "nominal"}
      }
    },
    {
      "data": {"name": "hatch"},
      "mark": {"type": "line", "interpolate": "monotone", "color": "#ffffff", "strokeWidth": 1.6},
      "encoding": {
        "x": {"field": "w", "type": "quantitative", "scale": {"domain": [225, 500], "nice": false, "zero": false}, "axis": null},
        "y": {"field": "p", "type": "quantitative", "scale": {"domain": [0, 0.9], "nice": false}, "axis": null},
        "detail": {"field": "k", "type": "nominal"}
      }
    },
    {
      "data": {"name": "vc"},
      "mark": {"type": "line", "interpolate": "monotone", "color": "#0072BD", "strokeWidth": 4.5},
      "encoding": {
        "x": {"field": "w", "type": "quantitative", "scale": {"domain": [225, 500], "nice": false, "zero": false}, "axis": null},
        "y": {"field": "p", "type": "quantitative", "scale": {"domain": [0, 0.9], "nice": false}, "axis": null}
      }
    },
    {
      "data": {"name": "abs"},
      "transform": [{"filter": "datum.s === 'DHAc'"}],
      "mark": {"type": "line", "strokeWidth": 5.5, "strokeJoin": "round"},
      "encoding": {
        "x": {"field": "w", "type": "quantitative", "scale": {"domain": [225, 500], "nice": false, "zero": false},
          "axis": {"orient": "top", "values": [250, 300, 350, 400, 450], "labels": false, "title": null, "tickSize": -7, "domainColor": "#262626", "tickColor": "#262626"}},
        "y": {"field": "a", "type": "quantitative", "scale": {"domain": [0, 1], "nice": false},
          "axis": {"orient": "left", "values": [0, 0.1, 0.2, 0.3, 0.4, 0.5, 0.6, 0.7, 0.8, 0.9, 1], "format": "~g", "labelExpr": "round(datum.value*10) % 2 == 0 ? datum.label : ''", "title": "absorbance (a.u.)", "tickSize": -7, "domainColor": "#D95319", "tickColor": "#D95319", "labelColor": "#D95319", "titleColor": "#D95319", "labelPadding": 17, "titleX": -50, "titleAngle": 270, "titleBaseline": "alphabetic"}},
        "stroke": {"field": "s", "type": "nominal", "scale": {"domain": ["PhGA", "PA", "DHAc", "DMSO"], "range": ["#562200", "#A34204", "#FFB07C", "#FF6600"]},
          "legend": {"orient": "none", "legendX": 86.7, "legendY": 525, "title": null, "symbolType": "stroke", "symbolStrokeWidth": 5.5, "symbolSize": 3364, "labelFontSize": 23.5, "labelColor": "#000000", "labelOffset": 4, "padding": 6.5, "clipHeight": 27.4, "rowPadding": 2.9, "strokeColor": "#262626", "fillColor": "#ffffff", "labelLimit": 0,
            "encode": {"legend": {"update": {"strokeWidth": {"value": 2.5}}}}}}
      }
    },
    {
      "data": {"name": "abs"},
      "transform": [{"filter": "datum.s === 'PA'"}],
      "mark": {"type": "line", "strokeWidth": 5.5, "strokeJoin": "round"},
      "encoding": {
        "x": {"field": "w", "type": "quantitative", "scale": {"domain": [225, 500], "nice": false, "zero": false}, "axis": null},
        "y": {"field": "a", "type": "quantitative", "scale": {"domain": [0, 1], "nice": false}, "axis": null},
        "stroke": {"field": "s", "type": "nominal", "scale": {"domain": ["PhGA", "PA", "DHAc", "DMSO"], "range": ["#562200", "#A34204", "#FFB07C", "#FF6600"]}}
      }
    },
    {
      "data": {"name": "abs"},
      "transform": [{"filter": "datum.s === 'DMSO'"}],
      "mark": {"type": "line", "strokeWidth": 5.5, "strokeJoin": "round"},
      "encoding": {
        "x": {"field": "w", "type": "quantitative", "scale": {"domain": [225, 500], "nice": false, "zero": false}, "axis": null},
        "y": {"field": "a", "type": "quantitative", "scale": {"domain": [0, 1], "nice": false}, "axis": null},
        "stroke": {"field": "s", "type": "nominal", "scale": {"domain": ["PhGA", "PA", "DHAc", "DMSO"], "range": ["#562200", "#A34204", "#FFB07C", "#FF6600"]}}
      }
    },
    {
      "data": {"name": "abs"},
      "transform": [{"filter": "datum.s === 'PhGA'"}],
      "mark": {"type": "line", "strokeWidth": 6, "strokeJoin": "round"},
      "encoding": {
        "x": {"field": "w", "type": "quantitative", "scale": {"domain": [225, 500], "nice": false, "zero": false}, "axis": null},
        "y": {"field": "a", "type": "quantitative", "scale": {"domain": [0, 1], "nice": false}, "axis": null},
        "stroke": {"field": "s", "type": "nominal", "scale": {"domain": ["PhGA", "PA", "DHAc", "DMSO"], "range": ["#562200", "#A34204", "#FFB07C", "#FF6600"]}}
      }
    }
  ],
  "resolve": {"scale": {"y": "independent"}, "axis": {"x": "independent", "y": "independent"}}
}
